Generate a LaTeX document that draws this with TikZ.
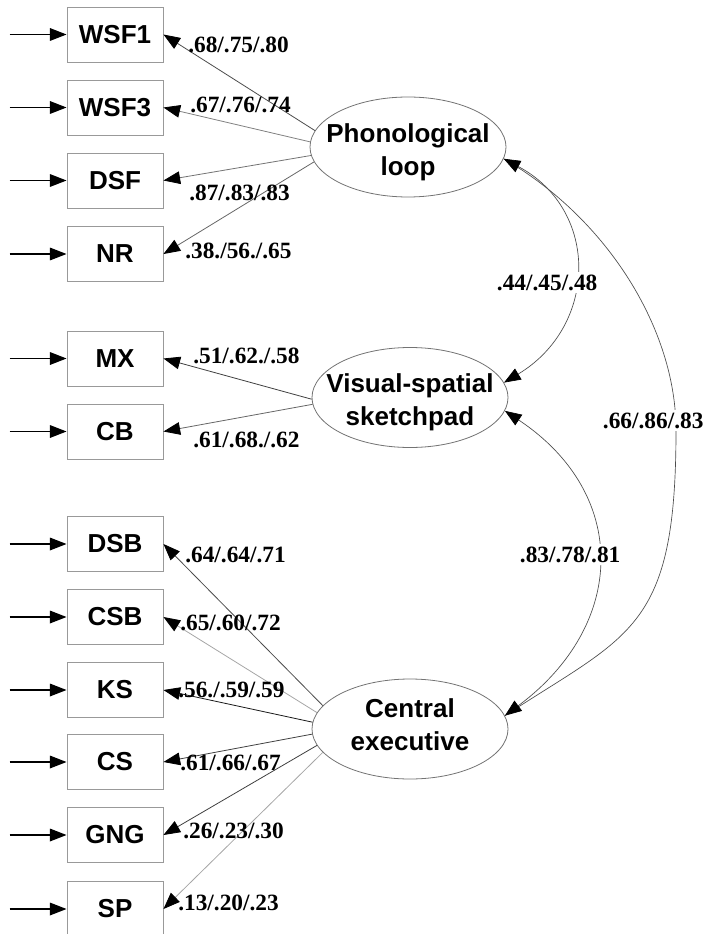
\documentclass[tikz,border=0pt]{standalone}
\usepackage{fontspec}
\setmainfont{Liberation Serif}
\setsansfont{Liberation Sans}
\usetikzlibrary{arrows.meta,shapes.geometric}
\begin{document}
\begin{tikzpicture}[x=0.75pt,y=-0.75pt,
  obs/.style={draw=black!40, line width=0.7pt, rectangle, minimum width=72pt, minimum height=41.25pt, inner sep=0pt, font=\sffamily\bfseries\fontsize{19.5}{22}\selectfont},
  lat/.style={draw=black!55, line width=0.6pt, ellipse, minimum width=147pt, minimum height=75pt, inner sep=0pt},
  lattext/.style={align=center, inner sep=0pt, font=\sffamily\bfseries\fontsize{19.5}{24.75}\selectfont},
  coef/.style={anchor=base west, inner sep=0pt, font=\bfseries\fontsize{17.5}{20}\selectfont},
  coefw/.style={coef, fill=white, inner sep=2pt},
  tip/.style={-{Triangle[length=12.5pt,width=9.5pt,color=black]}},
  inarrow/.style={tip, line width=0.9pt, draw=black},
  load/.style={tip, line width=0.6pt},
  cov/.style={{Triangle[length=12.5pt,width=9.5pt,color=black]}-{Triangle[length=12.5pt,width=9.5pt,color=black]}, line width=0.5pt, draw=black!70},
  covline/.style={line width=0.5pt, draw=black!70},
]
\useasboundingbox (0,0) rectangle (705,934);
\clip (0,0) rectangle (705,934);

% observed variables
\node[obs] (wsf1) at (115,34.5) {WSF1};
\node[obs] (wsf3) at (115,107.5) {WSF3};
\node[obs] (dsf)  at (115,180.5) {DSF};
\node[obs] (nr)   at (115,254) {NR};
\node[obs] (mx)   at (115,358.5) {MX};
\node[obs] (cb)   at (115,431.5) {CB};
\node[obs] (dsb)  at (115,544) {DSB};
\node[obs] (csb)  at (115,617) {CSB};
\node[obs] (ks)   at (115,690) {KS};
\node[obs] (cs)   at (115,762) {CS};
\node[obs] (gng)  at (115,835) {GNG};
\node[obs] (sp)   at (115,909) {SP};

% latent variables
\node[lat] (pl) at (408,147) {};
\node[lat] (vs) at (410,397.5) {};
\node[lat] (ce) at (410,729) {};
\node[lattext] (pltext) at (408,152) {Phonological\\loop};
\node[lattext] (vstext) at (410,402) {Visual-spatial\\sketchpad};
\node[lattext] (cetext) at (410,724.5) {Central\\executive};

% error inputs
\foreach \n in {wsf1,wsf3,dsf,nr,mx,cb,dsb,csb,ks,cs,gng,sp}{
  \coordinate (in-\n) at ([xshift=-42.75pt]\n.west);
  \draw[inarrow] (in-\n) -- (\n.west);
}

% loadings
\draw[load, draw=black!70] (pl.170) -- (wsf1.east);
\draw[load, draw=black!50] (pl.177) -- (wsf3.east);
\draw[load, draw=black!55] (pl.185) -- (dsf.east);
\draw[load, draw=black!60] (pl.189) -- (nr.east);
\draw[load, draw=black!75] (vs.181) -- (mx.east);
\draw[load, draw=black!60] (vs.184) -- (cb.east);
\draw[load, draw=black!70] (ce.165) -- (dsb.east);
\draw[load, draw=black!35] (ce.170) -- (csb.east);
\draw[load, draw=black!90] (ce.176) -- (ks.east);
\draw[load, draw=black!75] (ce.183) -- (cs.east);
\draw[load, draw=black!75] (ce.190) -- (gng.east);
\draw[load, draw=black!35] (ce.195) -- (sp.east);

% covariances
\coordinate (pltip) at (pl.-7);
\coordinate (vstop) at (vs.9);
\coordinate (vsbot) at (vs.-8);
\coordinate (cetip) at (ce.8);
\coordinate (c66) at (676,430);
\draw[covline] (pltip) .. controls (608,219) and (676,330) .. (c66)
  .. controls (676,630) and (630.5,633.5) .. (cetip);
\draw[cov] (pltip) .. controls (600,210) and (598,326) .. (vstop);
\draw[cov] (vsbot) .. controls (630,494) and (627,625) .. (cetip);

% coefficient labels
\node[coef] (l1) at (188,53) {.68/.75/.80};
\node[coef] (l2) at (190,113) {.67/.76/.74};
\node[coef] (l3) at (189,200) {.87/.83/.83};
\node[coef] (l4) at (185,258) {.38./56./.65};
\node[coef] (l5) at (193,363) {.51/.62./.58};
\node[coef] (l6) at (193,447) {.61/.68./.62};
\node[coef] (l7) at (185,562) {.64/.64/.71};
\node[coef] (l8) at (180,630) {.65/.60/.72};
\node[coef] (l9) at (178,697) {.56./.59/.59};
\node[coef] (l10) at (180,770) {.61/.66/.67};
\node[coef] (l11) at (183,838) {.26/.23/.30};
\node[coef] (l12) at (178,910) {.13/.20/.23};
\node[coefw] (c1) at (494,290) {.44/.45/.48};
\node[coefw] (c2) at (517,562) {.83/.78/.81};
\node[coefw] (c3) at (600,428) {.66/.86/.83};
\end{tikzpicture}
\end{document}
